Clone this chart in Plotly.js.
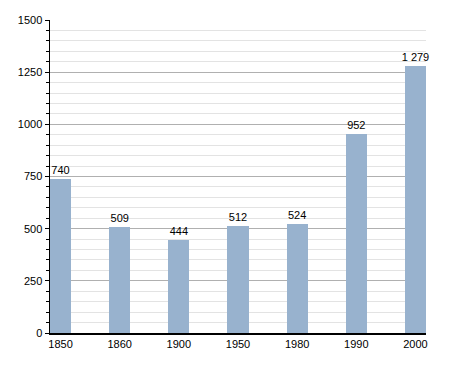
<!DOCTYPE html>
<html><head><meta charset="utf-8">
<script src="https://cdn.plot.ly/plotly-3.0.1.min.js"></script>
<style>html,body{margin:0;padding:0;background:#fff}#c{width:455px;height:373px}</style>
</head><body><div id="c"></div>
<script>
const years = ['1850','1860','1900','1950','1980','1990','2000'];
const population = [740, 509, 444, 512, 524, 952, 1279];
const labels = ['740','509','444','512','524','952','1 279'];

const w = 0.356;
Plotly.newPlot('c', [{
  type: 'bar', x: years, y: population,
  text: labels, textposition: 'outside', cliponaxis: false, constraintext: 'none',
  textfont: {family: 'Liberation Sans, Arial, sans-serif', size: 11, color: '#000'},
  marker: {color: '#98b2ce'}, width: w, hoverinfo: 'none'
}], {
  width: 455, height: 373,
  margin: {l: 50, r: 29, t: 20, b: 40},
  paper_bgcolor: '#fff', plot_bgcolor: '#fff',
  showlegend: false, bargap: 0,
  font: {family: 'Liberation Sans, Arial, sans-serif', size: 11, color: '#000'},
  xaxis: {type: 'category', range: [-w/2, 6 + w/2], showline: true, linecolor: '#000', linewidth: 1.5,
    ticks: '', showgrid: false, tickfont: {size: 11}, fixedrange: true},
  yaxis: {range: [0, 1500], dtick: 250, tick0: 0, showline: true, linecolor: '#000', linewidth: 1.5,
    ticks: 'outside', ticklen: 4, tickcolor: '#000', gridcolor: '#b0b0b0', gridwidth: 1,
    zeroline: false, tickfont: {size: 11},
    minor: {dtick: 50, ticks: 'outside', ticklen: 3, tickcolor: '#000', showgrid: true, gridcolor: '#e3e3e3', gridwidth: 1}}
}, {displayModeBar: false, staticPlot: true});
</script></body></html>
